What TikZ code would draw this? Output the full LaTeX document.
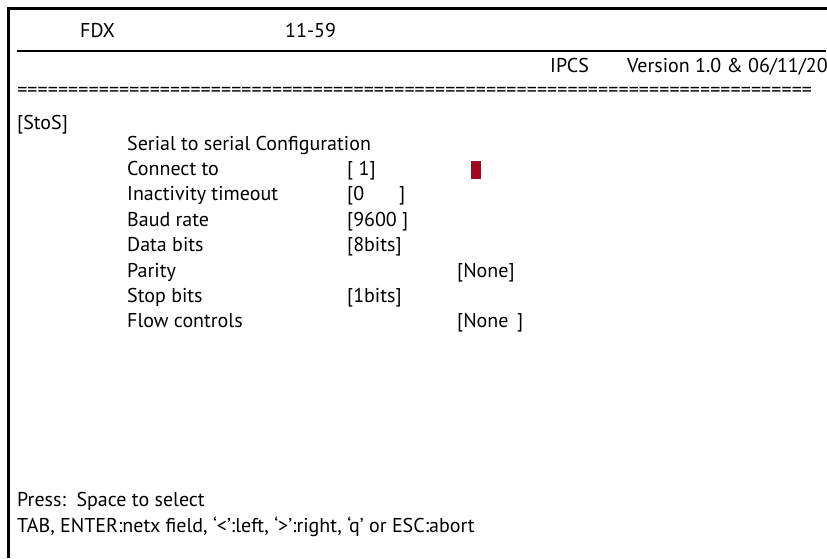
\documentclass[tikz,border=0pt]{standalone}
\usepackage{fontspec}
\setmainfont{PT Sans}
\definecolor{cursorred}{RGB}{160,8,32}
\tikzset{
	txt/.style={anchor=base west,inner sep=0pt,font=\fontsize{20}{24}\selectfont},
	frame/.style={line width=3pt},
}
\begin{document}
\begin{tikzpicture}[x=1pt,y=-1pt]
	\useasboundingbox (0,0) rectangle (827,558);
	\draw[frame] (8,558) -- (8,8) -- (827,8);
	\draw[line width=2pt] (17,51) -- (826,51);
	\node[txt] (fdx) at (80,37) {FDX};
	\node[txt] (time) at (285,37) {11-59};
	\node[txt] (ipcs) at (550,72) {IPCS};
	\node[txt] (version) at (627,72) {Version 1.0 \& 06/11/20};
	\node[txt] (rule) at (17,96) {\hbox to 795pt{\xleaders\hbox{=}\hfill}};
	\node[txt] (menu) at (17,129) {[StoS]};
	\node[txt] (title) at (127,150) {Serial to serial Configuration};
	\node[txt] (connect) at (127,175.4) {Connect to};
	\node[txt] (inact) at (127,200.8) {Inactivity timeout};
	\node[txt] (baud) at (127,226.2) {Baud rate};
	\node[txt] (data) at (127,251.6) {Data bits};
	\node[txt] (parity) at (127,277) {Parity};
	\node[txt] (stop) at (127,302.4) {Stop bits};
	\node[txt] (flow) at (127,327.8) {Flow controls};
	\node[txt] (connectval) at (347,175.4) {[ 1]};
	\node[txt] (inactval) at (347,200.8) {\hbox to 58pt{[0\hfill]}};
	\node[txt] (baudval) at (347,226.2) {\hbox to 61pt{[9600\hfill]}};
	\node[txt] (dataval) at (347,251.6) {[8bits]};
	\node[txt] (parityval) at (457,277) {[None]};
	\node[txt] (stopval) at (347,302.4) {[1bits]};
	\node[txt] (flowval) at (457,327.8) {\hbox to 66pt{[None\hfill]}};
	\fill[cursorred] (471,161) rectangle (481,179);
	\node[txt] (press) at (17,506) {Press:\ \ Space to select};
	\node[txt] (keys) at (17,532) {TAB, ENTER:netx field, ‘<’:left, ‘>’:right, ‘q’ or ESC:abort};
\end{tikzpicture}
\end{document}
